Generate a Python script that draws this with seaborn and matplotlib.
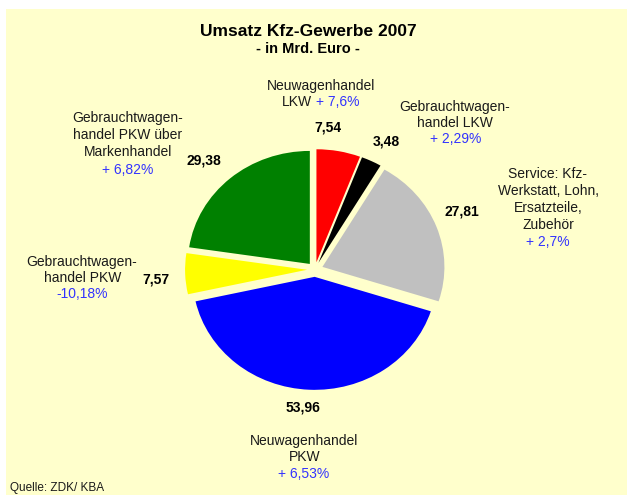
import matplotlib
matplotlib.use("Agg")
import matplotlib.pyplot as plt
import matplotlib.patches as mpatches
import seaborn as sns

# data (Mrd. Euro, 2007), clockwise from 12 o'clock
segments = ["Neuwagenhandel LKW", "Gebrauchtwagenhandel LKW", "Service",
            "Neuwagenhandel PKW", "Gebrauchtwagenhandel PKW",
            "Gebrauchtwagenhandel PKW über Markenhandel"]
values = [7.54, 3.48, 27.81, 53.96, 7.57, 29.38]
value_labels = ["7,54", "3,48", "27,81", "53,96", "7,57", "29,38"]
changes = ["+ 7,6%", "+ 2,29%", "+ 2,7%", "+ 6,53%", "-10,18%", "+ 6,82%"]
slice_colors = ["#FF0000", "#000000", "#C0C0C0", "#0000FF", "#FFFF00", "#008000"]

sns.set_theme(style="white")
plt.rcParams["font.family"] = ["Liberation Sans", "DejaVu Sans"]

W, H = 627, 495
fig = plt.figure(figsize=(W / 100, H / 100), dpi=100, facecolor="white")

# pale yellow chart area (drawn behind the axes)
fig.patches.append(mpatches.Rectangle((6 / W, 0), 1 - 6 / W, 1 - 9 / H,
                                      transform=fig.transFigure,
                                      facecolor="#FFFFCC", edgecolor="none",
                                      zorder=-1))

ax = fig.add_axes([0, 0, 1, 1])
ax.patch.set_alpha(0)
ax.pie(values, colors=slice_colors, startangle=90, counterclock=False,
       explode=[0.065] * len(values), radius=1,
       wedgeprops=dict(linewidth=0))
ax.set_aspect("auto")
# centre at (315, 269.5) px, radius 122 px wide, 113 px tall
ax.set_xlim(-315 / 122, (W - 315) / 122)
ax.set_ylim((269.5 - H) / 113, 269.5 / 113)
ax.axis("off")

blue = "#3333FF"
dark = "#1a1a1a"


def put(x, y, s, size=10, color=dark, weight="normal", ha="center"):
    fig.text(x / W, 1 - y / H, s, fontsize=size, color=color,
             fontweight=weight, ha=ha, va="center")


# title
put(308, 31, "Umsatz Kfz-Gewerbe 2007", size=12.5, color="black", weight="bold")
put(308, 49, "- in Mrd. Euro -", size=10.5, color="black", weight="bold")

# value labels
value_pos = [(328, 127), (386, 141), (462, 211), (303, 408), (156, 279), (204, 160)]
for (x, y), s in zip(value_pos, value_labels):
    put(x, y, s, color="black", weight="bold")

# Neuwagenhandel LKW
put(321, 86, "Neuwagenhandel")
put(312, 102, "LKW", ha="right")
put(316, 102, changes[0], color=blue, ha="left")

# Gebrauchtwagenhandel LKW
put(455, 107, "Gebrauchtwagen-")
put(455, 123, "handel LKW")
put(456, 139, changes[1], color=blue)

# Service
for y, s in zip([174, 191, 208, 225], ["Service: Kfz-", "Werkstatt, Lohn,",
                                       "Ersatzteile,", "Zubehör"]):
    put(548, y, s)
put(548, 242, changes[2], color=blue)

# Neuwagenhandel PKW
put(304, 441, "Neuwagenhandel")
put(305, 457, "PKW")
put(304, 474, changes[3], color=blue)

# Gebrauchtwagenhandel PKW
put(82, 262, "Gebrauchtwagen-")
put(83, 278, "handel PKW")
put(82, 294, changes[4], color=blue)

# Gebrauchtwagenhandel PKW über Markenhandel
put(128, 118, "Gebrauchtwagen-")
put(128, 135, "handel PKW über")
put(128, 152, "Markenhandel")
put(128, 170, changes[5], color=blue)

put(10, 488, "Quelle: ZDK/ KBA", size=8.5, color=dark, ha="left")

fig.savefig("out.png", dpi=100, facecolor=fig.get_facecolor())
